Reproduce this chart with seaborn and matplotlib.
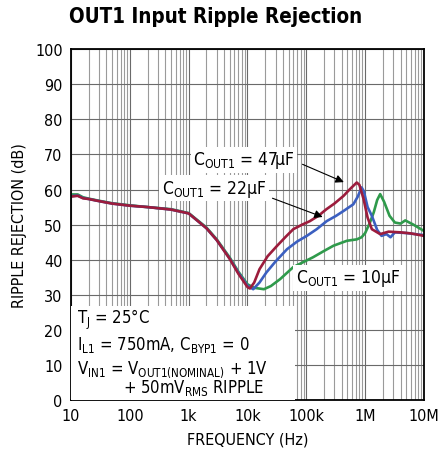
import numpy as np
import pandas as pd
import matplotlib
matplotlib.use("Agg")
import matplotlib.pyplot as plt
import matplotlib.ticker as mticker
import seaborn as sns

# Curve data (frequency in Hz, rejection in dB)
f_10u = [10, 13, 16, 20, 30, 50, 100, 200, 500, 1e3, 2e3, 3e3, 5e3, 7e3, 10e3, 13e3,
         19e3, 25e3, 36e3, 60e3, 130e3, 200e3, 290e3, 490e3, 720e3, 870e3, 1e6, 1.2e6,
         1.4e6, 1.6e6, 1.8e6, 2.1e6, 2.6e6, 3.2e6, 4e6, 4.8e6, 6.6e6, 10e6]
v_10u = [58.6, 58.6, 57.8, 57.4, 56.8, 56.1, 55.5, 55.0, 54.4, 53.3, 49.2, 45.8, 40.6,
         36.6, 33.0, 32.0, 31.6, 32.5, 34.5, 37.9, 40.7, 42.5, 44.0, 45.4, 45.8, 46.4,
         47.6, 50.5, 53.5, 57.0, 58.7, 56.5, 52.5, 50.6, 50.3, 51.2, 50.0, 48.2]

f_22u = [10, 13, 16, 20, 30, 50, 100, 200, 500, 1e3, 2e3, 3e3, 5e3, 7e3, 10e3, 12.5e3,
         16e3, 21e3, 30e3, 47e3, 70e3, 102e3, 150e3, 222e3, 320e3, 430e3, 630e3, 750e3,
         870e3, 950e3, 1.1e6, 1.3e6, 1.6e6, 1.9e6, 2.3e6, 2.7e6, 3.2e6, 5e6, 10e6]
v_22u = [58.1, 58.3, 57.6, 57.3, 56.7, 56.0, 55.4, 55.0, 54.3, 53.2, 49.0, 45.6, 40.3,
         36.3, 32.6, 31.6, 33.5, 36.4, 39.5, 43.0, 45.2, 46.8, 48.7, 51.0, 52.5, 53.9,
         55.8, 58.0, 60.6, 59.5, 55.0, 52.5, 48.5, 46.8, 47.3, 46.4, 47.8, 47.6, 47.0]

f_47u = [10, 13, 16, 20, 30, 50, 100, 200, 500, 1e3, 2e3, 3e3, 5e3, 7e3, 10e3, 11e3,
         13e3, 16e3, 22e3, 32e3, 45e3, 60e3, 85e3, 115e3, 160e3, 220e3, 300e3, 430e3,
         550e3, 720e3, 800e3, 940e3, 1.1e6, 1.3e6, 1.8e6, 2.5e6, 4e6, 6e6, 10e6]
v_47u = [58.0, 58.2, 57.5, 57.3, 56.7, 56.0, 55.4, 55.0, 54.3, 53.2, 49.0, 45.6, 40.2,
         36.0, 32.2, 31.8, 33.5, 37.3, 41.0, 44.0, 46.6, 48.7, 50.0, 51.0, 52.5, 54.4,
         56.0, 58.2, 60.1, 62.0, 61.3, 57.3, 52.0, 48.7, 47.3, 48.0, 47.8, 47.5, 46.8]

series = ["10µF", "22µF", "47µF"]
colors = ["#2f9a4b", "#3b5fc0", "#9c1c3c"]

x_ticks = [10, 100, 1e3, 1e4, 1e5, 1e6, 1e7]
x_tick_labels = ["10", "100", "1k", "10k", "100k", "1M", "10M"]
y_ticks = list(range(0, 101, 10))

df = pd.concat([
    pd.DataFrame({"freq": f_10u, "rej": v_10u, "cap": series[0]}),
    pd.DataFrame({"freq": f_22u, "rej": v_22u, "cap": series[1]}),
    pd.DataFrame({"freq": f_47u, "rej": v_47u, "cap": series[2]}),
])

sns.set_style("white")
plt.rcParams["font.family"] = ["DejaVu Sans"]
plt.rcParams["font.stretch"] = "condensed"
plt.rcParams["mathtext.default"] = "regular"
plt.rcParams["text.color"] = "black"
plt.rcParams["axes.labelcolor"] = "black"
plt.rcParams["xtick.color"] = "black"
plt.rcParams["ytick.color"] = "black"

fig = plt.figure(figsize=(4.39, 4.60), dpi=100)
ax = fig.add_axes([0.1617, 0.128, 0.8041, 0.763])

sns.lineplot(data=df, x="freq", y="rej", hue="cap", palette=dict(zip(series, colors)),
             linewidth=1.9, legend=False, ax=ax, sort=False, estimator=None)

ax.set_xscale("log")
ax.set_xlim(10, 1e7)
ax.set_ylim(0, 100)
ax.set_xticks(x_ticks)
ax.set_xticklabels(x_tick_labels)
ax.xaxis.set_minor_locator(mticker.LogLocator(base=10, subs=np.arange(2, 10), numticks=100))
ax.xaxis.set_minor_formatter(mticker.NullFormatter())
ax.set_yticks(y_ticks)

ax.tick_params(which="both", direction="in", length=4, labelsize=11.5, pad=6)
ax.tick_params(which="minor", length=3, width=0.7)
ax.grid(True, which="major", color="#6a6a6a", linewidth=0.8)
ax.grid(True, which="minor", axis="x", color="#9a9a9a", linewidth=0.8)
ax.set_axisbelow(True)
for s in ax.spines.values():
    s.set_color("black")
    s.set_linewidth(1.3)

ax.set_xlabel("FREQUENCY (Hz)", fontsize=11.5, labelpad=6)
ax.set_ylabel("RIPPLE REJECTION (dB)", fontsize=11.5, labelpad=6)
fig.text(0.492, 0.962, "OUT1 Input Ripple Rejection", ha="center", va="center",
         fontsize=14.8, fontweight="bold")

# callouts
box = dict(boxstyle="square,pad=0.15", facecolor="white", edgecolor="none")
arrow = dict(arrowstyle="-|>", color="black", lw=0.8, mutation_scale=12)
ax.annotate("", xy=(4.8e5, 61.8), xytext=(7.8e4, 67.5), arrowprops=arrow)
ax.annotate("", xy=(2.1e5, 51.9), xytext=(2.4e4, 57.8), arrowprops=arrow)
ax.text(8.7e3, 68.5, r"C$_{OUT1}$ = 47µF", ha="center", va="center", fontsize=12.5, bbox=box)
ax.text(2.7e3, 60.4, r"C$_{OUT1}$ = 22µF", ha="center", va="center", fontsize=12.5, bbox=box)
ax.text(5.1e5, 34.8, r"C$_{OUT1}$ = 10µF", ha="center", va="center", fontsize=12.5, bbox=box)

# conditions box
ax.add_patch(plt.Rectangle((0, 0), 0.635, 0.268, transform=ax.transAxes,
                           facecolor="white", edgecolor="none", zorder=3))
cond = dict(transform=ax.transAxes, fontsize=12, va="center", ha="left", zorder=4)
ax.text(0.017, 0.231, r"T$_J$ = 25°C", **cond)
ax.text(0.017, 0.160, r"I$_{L1}$ = 750mA, C$_{BYP1}$ = 0", **cond)
ax.text(0.017, 0.090, r"V$_{IN1}$ = V$_{OUT1(NOMINAL)}$ + 1V", **cond)
ax.text(0.147, 0.038, r"+ 50mV$_{RMS}$ RIPPLE", **cond)

fig.savefig("out.png", dpi=100)
